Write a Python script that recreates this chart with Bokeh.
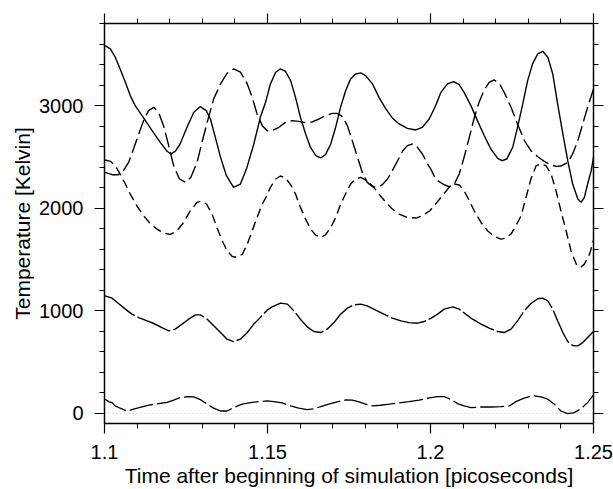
from bokeh.plotting import figure
from bokeh.models import (Range1d, LinearAxis, SingleIntervalTicker,
                          CustomJSTickFormatter)
from bokeh.embed import file_html
from bokeh.resources import INLINE

# ---- data (time in ps, temperature in K) ----
t_solid = [1.1002, 1.1018, 1.1033, 1.1048, 1.1064, 1.1079, 1.1094, 1.1120, 1.1146,
           1.1171, 1.1192, 1.1204, 1.1217, 1.1232, 1.1253, 1.1274, 1.1294, 1.1312,
           1.1325, 1.1340, 1.1356, 1.1374, 1.1396, 1.1417, 1.1437, 1.1458, 1.1478,
           1.1494, 1.1509, 1.1525, 1.1540, 1.1555, 1.1571, 1.1586, 1.1601, 1.1617,
           1.1632, 1.1648, 1.1663, 1.1678, 1.1694, 1.1709, 1.1724, 1.1740, 1.1755,
           1.1770, 1.1786, 1.1801, 1.1822, 1.1842, 1.1863, 1.1883, 1.1904, 1.1929,
           1.1955, 1.1975, 1.1996, 1.2016, 1.2032, 1.2052, 1.2071, 1.2088, 1.2103,
           1.2124, 1.2144, 1.2165, 1.2185, 1.2206, 1.2219, 1.2234, 1.2252, 1.2267,
           1.2283, 1.2298, 1.2313, 1.2329, 1.2344, 1.2360, 1.2375, 1.2390, 1.2406,
           1.2421, 1.2436, 1.2452, 1.2462, 1.2472, 1.2482, 1.2493, 1.2500]
T_solid = [3585, 3552, 3471, 3357, 3227, 3097, 2999, 2879, 2755,
           2641, 2554, 2528, 2554, 2625, 2788, 2934, 2990, 2950,
           2869, 2690, 2495, 2316, 2202, 2235, 2397, 2625, 2885,
           3032, 3211, 3325, 3357, 3334, 3243, 3080, 2885, 2723,
           2592, 2511, 2489, 2521, 2625, 2788, 2983, 3146, 3260,
           3308, 3318, 3292, 3211, 3080, 2967, 2879, 2821, 2778,
           2762, 2788, 2869, 3000, 3129, 3211, 3234, 3204, 3129,
           2999, 2853, 2706, 2577, 2485, 2462, 2479, 2592, 2788,
           3016, 3243, 3406, 3504, 3529, 3471, 3308, 3016, 2723,
           2462, 2235, 2088, 2056, 2104, 2235, 2365, 2495]

t_long = [1.1002, 1.1023, 1.1043, 1.1058, 1.1074, 1.1089, 1.1105, 1.1120, 1.1135,
          1.1151, 1.1166, 1.1181, 1.1197, 1.1212, 1.1230, 1.1248, 1.1265, 1.1284,
          1.1299, 1.1315, 1.1335, 1.1356, 1.1376, 1.1396, 1.1417, 1.1438, 1.1453,
          1.1468, 1.1484, 1.1499, 1.1514, 1.1535, 1.1555, 1.1576, 1.1596, 1.1617,
          1.1637, 1.1658, 1.1678, 1.1699, 1.1714, 1.1730, 1.1745, 1.1760, 1.1776,
          1.1791, 1.1806, 1.1822, 1.1837, 1.1852, 1.1868, 1.1883, 1.1899, 1.1914,
          1.1929, 1.1945, 1.1960, 1.1975, 1.1991, 1.2001, 1.2016, 1.2042, 1.2057,
          1.2073, 1.2088, 1.2103, 1.2119, 1.2134, 1.2149, 1.2165, 1.2180, 1.2195,
          1.2211, 1.2226, 1.2247, 1.2267, 1.2288, 1.2308, 1.2329, 1.2349, 1.2370,
          1.2385, 1.2400, 1.2421, 1.2436, 1.2452, 1.2467, 1.2482, 1.2500]
T_long = [2348, 2326, 2326, 2365, 2446, 2577, 2723, 2853, 2950,
          2983, 2934, 2804, 2609, 2414, 2284, 2251, 2300, 2446,
          2641, 2836, 3065, 3211, 3315, 3357, 3325, 3211, 3080,
          2918, 2804, 2755, 2755, 2788, 2836, 2853, 2846, 2833,
          2840, 2869, 2902, 2924, 2924, 2892, 2804, 2658, 2495,
          2348, 2251, 2209, 2202, 2228, 2284, 2365, 2462, 2554,
          2609, 2625, 2592, 2528, 2430, 2380, 2280, 2228, 2209,
          2235, 2332, 2495, 2690, 2879, 3032, 3152, 3227, 3250,
          3217, 3129, 2983, 2821, 2658, 2560, 2501, 2456, 2420,
          2407, 2410, 2446, 2528, 2658, 2821, 2983, 3162]

t_mid = [1.1002, 1.1018, 1.1033, 1.1048, 1.1064, 1.1079, 1.1099, 1.1120, 1.1140,
         1.1161, 1.1181, 1.1202, 1.1222, 1.1243, 1.1263, 1.1284, 1.1297, 1.1313,
         1.1330, 1.1345, 1.1361, 1.1376, 1.1392, 1.1407, 1.1423, 1.1438, 1.1453,
         1.1468, 1.1484, 1.1496, 1.1509, 1.1525, 1.1540, 1.1555, 1.1571, 1.1586,
         1.1601, 1.1617, 1.1632, 1.1648, 1.1663, 1.1678, 1.1694, 1.1709, 1.1724,
         1.1740, 1.1755, 1.1770, 1.1786, 1.1801, 1.1822, 1.1842, 1.1863, 1.1883,
         1.1904, 1.1929, 1.1955, 1.1975, 1.1998, 1.2022, 1.2042, 1.2057, 1.2073,
         1.2088, 1.2103, 1.2119, 1.2134, 1.2155, 1.2175, 1.2195, 1.2216, 1.2231,
         1.2247, 1.2262, 1.2278, 1.2293, 1.2308, 1.2324, 1.2339, 1.2354, 1.2370,
         1.2385, 1.2400, 1.2416, 1.2431, 1.2447, 1.2460, 1.2472, 1.2488, 1.2500]
T_mid = [2469, 2456, 2414, 2332, 2235, 2137, 2023, 1926, 1851,
         1796, 1757, 1743, 1779, 1860, 1974, 2056, 2069, 2040,
         1942, 1811, 1682, 1584, 1528, 1519, 1552, 1649, 1779,
         1909, 2040, 2110, 2202, 2284, 2313, 2293, 2228, 2137,
         2007, 1893, 1796, 1737, 1714, 1740, 1811, 1909, 2033,
         2143, 2235, 2284, 2300, 2274, 2218, 2137, 2056, 1991,
         1942, 1909, 1903, 1926, 1974, 2065, 2143, 2202, 2235,
         2225, 2170, 2072, 1974, 1860, 1779, 1724, 1698, 1708,
         1747, 1828, 1926, 2104, 2284, 2414, 2430, 2414, 2332,
         2170, 1974, 1779, 1584, 1454, 1421, 1454, 1552, 1688]

t_k1000 = [1.1002, 1.1023, 1.1043, 1.1064, 1.1084, 1.1105, 1.1125, 1.1151, 1.1176,
           1.1197, 1.1217, 1.1238, 1.1258, 1.1279, 1.1294, 1.1315, 1.1335, 1.1356,
           1.1376, 1.1396, 1.1417, 1.1438, 1.1458, 1.1478, 1.1499, 1.1514, 1.1540,
           1.1561, 1.1581, 1.1601, 1.1622, 1.1642, 1.1663, 1.1683, 1.1704, 1.1724,
           1.1745, 1.1765, 1.1786, 1.1806, 1.1832, 1.1857, 1.1883, 1.1909, 1.1934,
           1.1960, 1.1980, 1.2001, 1.2022, 1.2042, 1.2068, 1.2088, 1.2108, 1.2129,
           1.2155, 1.2180, 1.2206, 1.2226, 1.2247, 1.2267, 1.2288, 1.2308, 1.2329,
           1.2344, 1.2360, 1.2375, 1.2390, 1.2406, 1.2421, 1.2436, 1.2452, 1.2467,
           1.2482, 1.2500]
T_k1000 = [1145, 1122, 1070, 1015, 966, 933, 908, 875, 835,
           803, 820, 869, 917, 959, 959, 917, 852, 787,
           722, 699, 722, 787, 869, 933, 1005, 1037, 1074,
           1064, 998, 917, 842, 797, 787, 820, 884, 966,
           1025, 1057, 1064, 1047, 1005, 966, 927, 901, 884,
           878, 894, 925, 966, 1015, 1037, 1015, 966, 917,
           869, 830, 797, 787, 820, 901, 998, 1070, 1116,
           1122, 1096, 1015, 901, 787, 699, 660, 657, 689,
           738, 797]

t_low = [1.1002, 1.1013, 1.1023, 1.1033, 1.1048, 1.1069, 1.1089, 1.1115, 1.1140,
         1.1166, 1.1192, 1.1212, 1.1232, 1.1253, 1.1274, 1.1294, 1.1315, 1.1335,
         1.1356, 1.1376, 1.1396, 1.1422, 1.1448, 1.1473, 1.1499, 1.1519, 1.1545,
         1.1571, 1.1596, 1.1622, 1.1642, 1.1663, 1.1688, 1.1714, 1.1740, 1.1760,
         1.1781, 1.1801, 1.1822, 1.1847, 1.1873, 1.1904, 1.1934, 1.1965, 1.1996,
         1.2022, 1.2042, 1.2062, 1.2083, 1.2103, 1.2124, 1.2155, 1.2185, 1.2216,
         1.2242, 1.2262, 1.2283, 1.2303, 1.2318, 1.2339, 1.2360, 1.2380, 1.2400,
         1.2421, 1.2441, 1.2462, 1.2482, 1.2500]
T_low = [137, 113, 104, 71, 49, 22, 39, 61, 81,
         94, 107, 127, 152, 162, 159, 133, 88, 49,
         22, 22, 55, 88, 104, 113, 120, 113, 101,
         71, 49, 35, 42, 65, 88, 110, 130, 127,
         110, 88, 71, 78, 88, 101, 113, 127, 149,
         162, 162, 137, 94, 71, 55, 61, 61, 65,
         71, 113, 143, 162, 169, 159, 137, 88, 22,
         -4, 6, 45, 104, 179]

t_zero = [1.1, 1.25]
T_zero = [0, 0]

FONT = "Liberation Sans"

p = figure(width=613, height=489, output_backend="svg", toolbar_location=None,
           x_range=Range1d(1.1, 1.25), y_range=Range1d(-100, 3800),
           min_border_left=104, min_border_right=20, min_border_top=23,
           min_border_bottom=66, outline_line_color=None,
           x_axis_label="Time after beginning of simulation [picoseconds]",
           y_axis_label="Temperature [Kelvin]")
p.grid.visible = False
p.background_fill_color = "white"
p.border_fill_color = "white"

bottom = p.below[0]
left = p.left[0]

xt = SingleIntervalTicker(interval=0.05, num_minor_ticks=5)
yt = SingleIntervalTicker(interval=1000, num_minor_ticks=5)
blank = CustomJSTickFormatter(code="return '';")

bottom.ticker = xt
left.ticker = yt
bottom.formatter = CustomJSTickFormatter(
    code="var s = tick.toFixed(2); if (s.endsWith('0')) { s = s.slice(0, -1); } return s;")

top = LinearAxis(ticker=xt, formatter=blank, major_label_standoff=0)
right = LinearAxis(ticker=yt, formatter=blank, major_label_standoff=0)
p.add_layout(top, "above")
p.add_layout(right, "right")

for ax in [bottom, left, top, right]:
    ax.axis_line_width = 1.5
    ax.axis_line_color = "black"
    ax.major_tick_line_color = "black"
    ax.minor_tick_line_color = "black"
    ax.major_tick_line_width = 1.2
    ax.minor_tick_line_width = 1.0
    ax.major_tick_in = 0
    ax.minor_tick_in = 0
    ax.major_tick_out = 10
    ax.minor_tick_out = 5
    ax.major_label_text_font = FONT
    ax.major_label_text_font_size = "20px"
    ax.major_label_text_color = "black"
    ax.axis_label_text_font = FONT
    ax.axis_label_text_font_size = "21px"
    ax.axis_label_text_font_style = "normal"
    ax.axis_label_text_color = "black"

bottom.major_label_standoff = 11
bottom.axis_label_standoff = 2
left.major_label_standoff = 11
left.axis_label_standoff = 2

p.line(t_zero, T_zero, line_color="#b4b4b4", line_width=1, line_dash="1 3")
p.line(t_low, T_low, line_color="black", line_width=1.3, line_dash="24 4")
p.line(t_k1000, T_k1000, line_color="black", line_width=1.4, line_dash="36 3")
p.line(t_mid, T_mid, line_color="black", line_width=1.4, line_dash="9 5")
p.line(t_long, T_long, line_color="black", line_width=1.4, line_dash="15 5")
p.line(t_solid, T_solid, line_color="black", line_width=1.4)

open("out.html", "w").write(file_html(p, INLINE))
